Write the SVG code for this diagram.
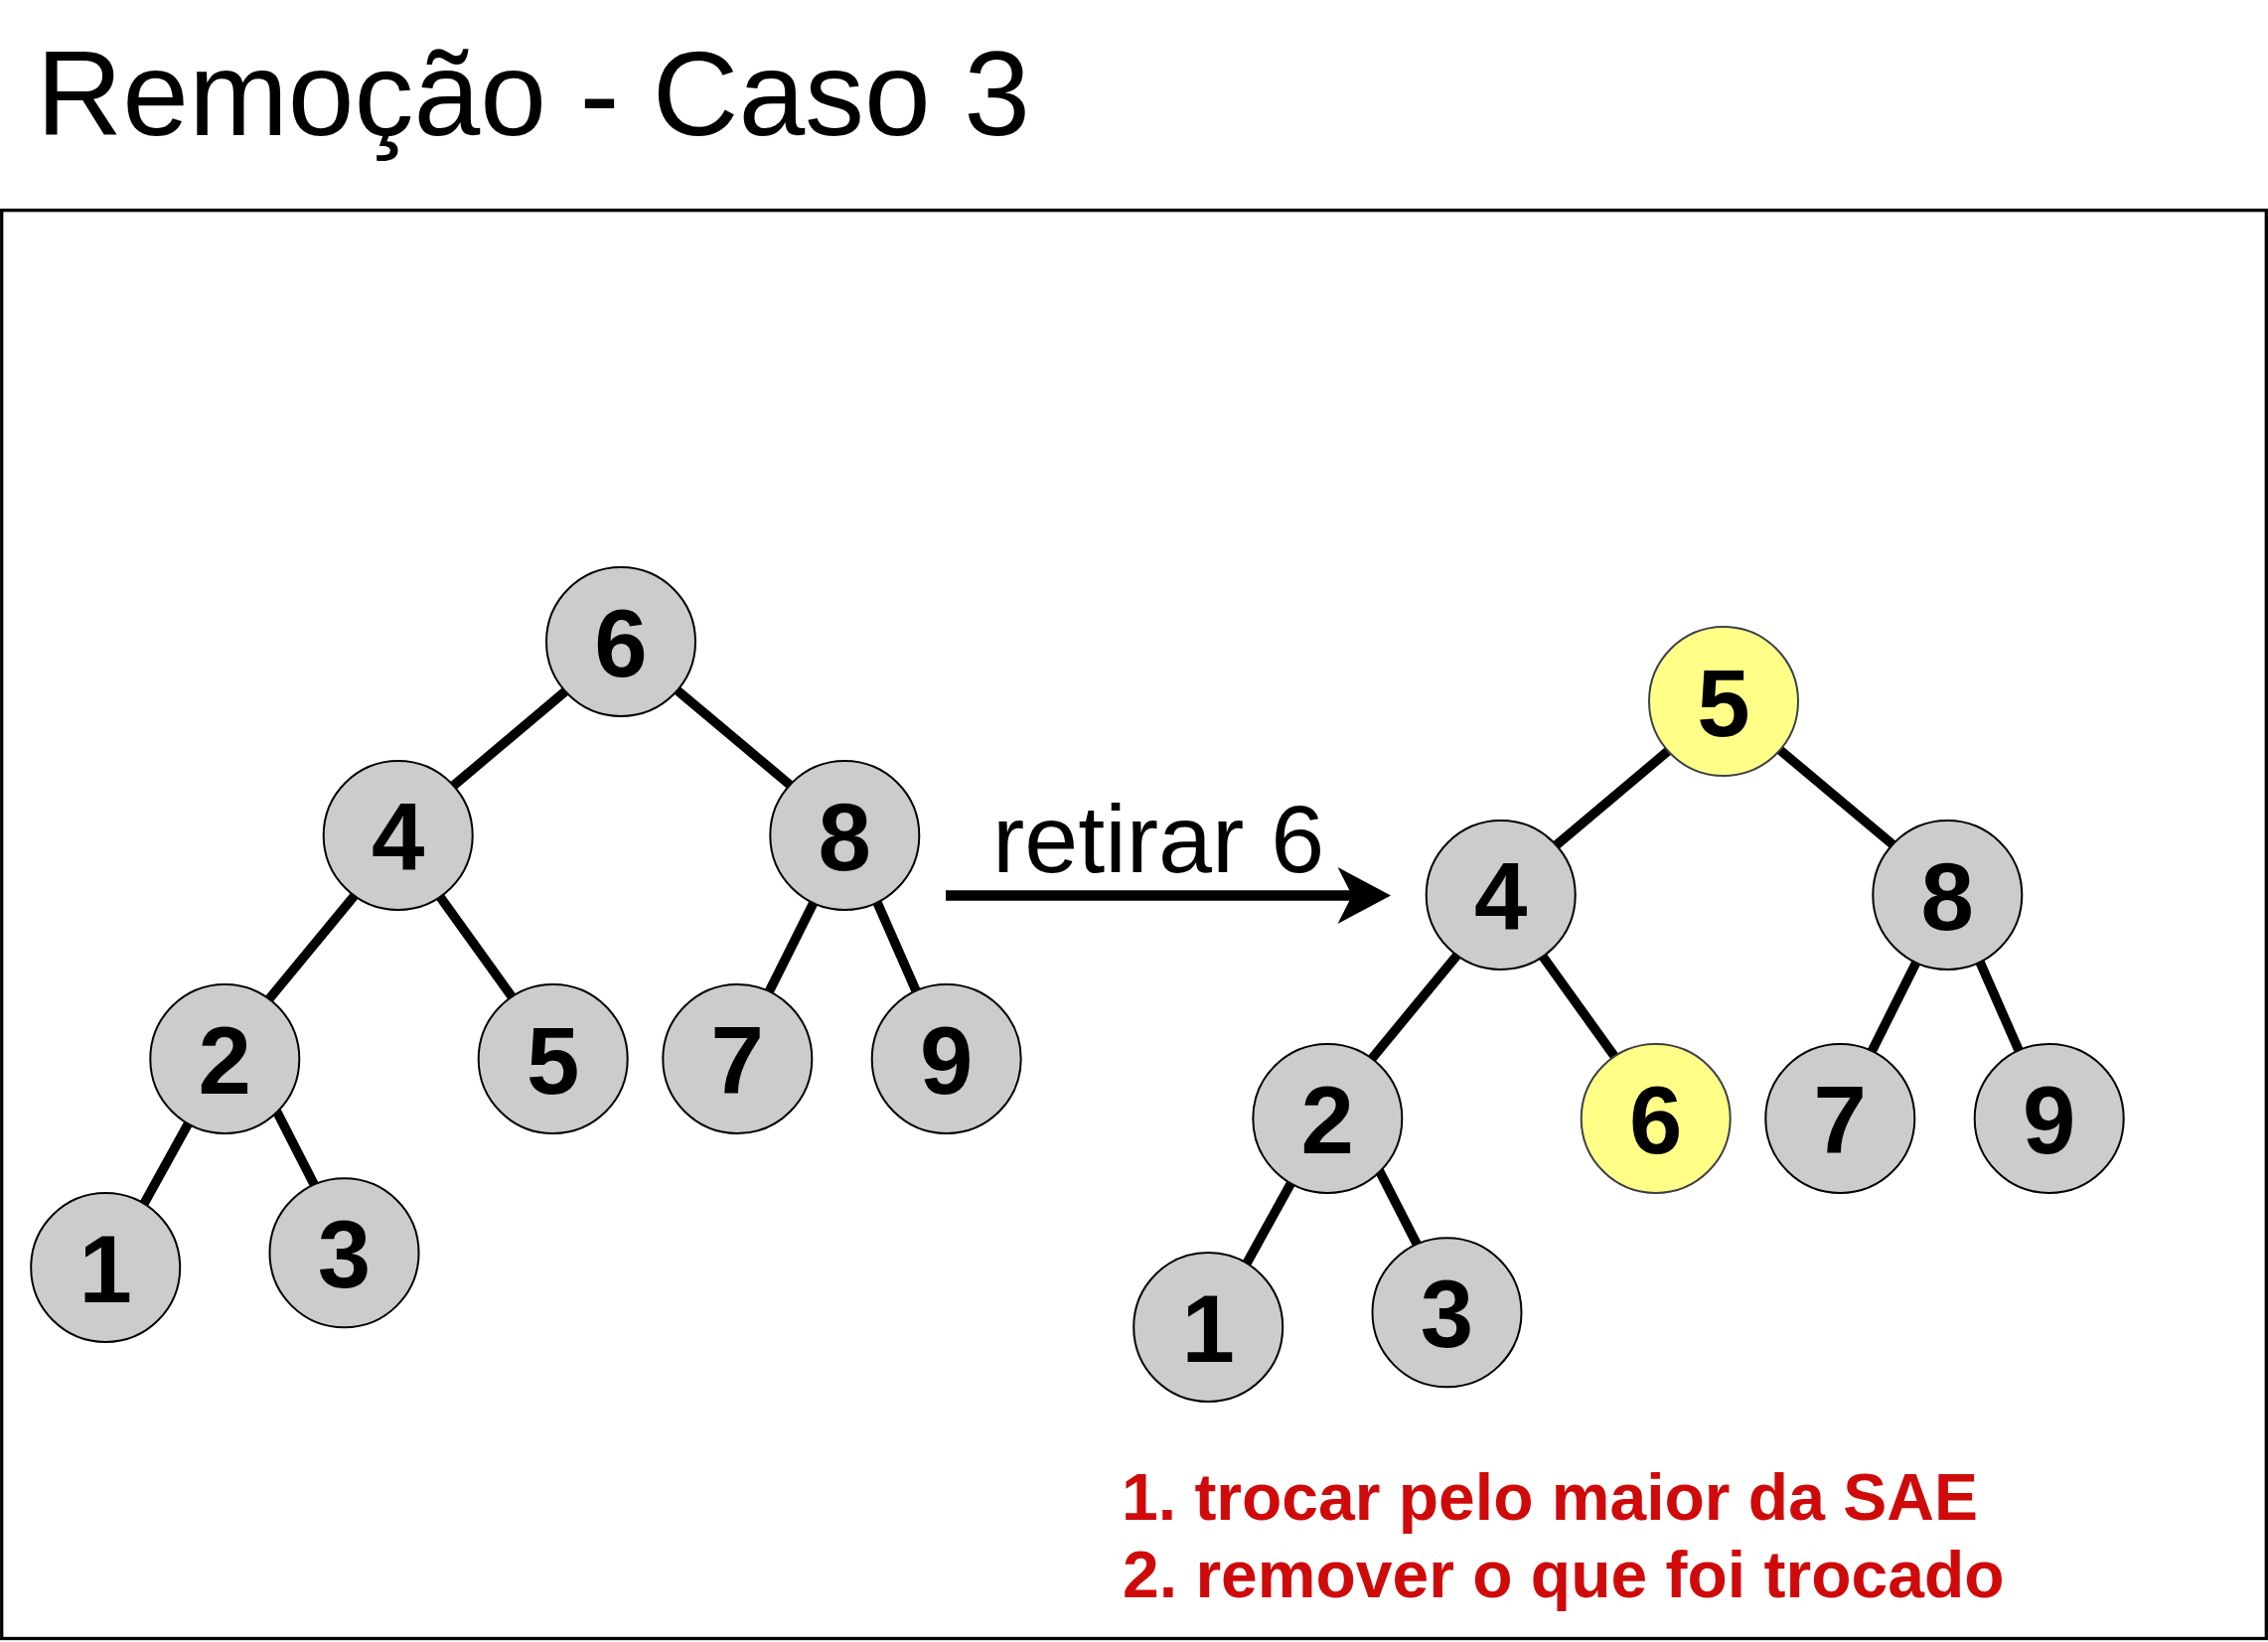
<svg xmlns="http://www.w3.org/2000/svg" width="2283" height="1653" viewBox="0 0 2283 1653">
  <style>
    .edge { stroke: #000; stroke-width: 9.5; fill: none; }
    .node { fill: #cccccc; stroke: #000; stroke-width: 2; }
    .hl { fill: #ffff88; stroke: #3c4046; stroke-width: 2; }
    .lbl { font-family: "Liberation Sans", Arial, Helvetica, sans-serif; font-weight: bold; font-size: 96px; text-anchor: middle; fill: #000; }
    .title { font-family: "Liberation Sans", Arial, Helvetica, sans-serif; font-size: 120px; fill: #000; }
    .arrowtxt { font-family: "Liberation Sans", Arial, Helvetica, sans-serif; font-size: 97px; fill: #000; }
    .note { font-family: "Liberation Sans", Arial, Helvetica, sans-serif; font-weight: bold; font-size: 66px; fill: #cf0a0a; }
  </style>
  <rect x="0" y="0" width="2283" height="1653" fill="#ffffff"/>
  <text id="title" class="title" x="36.5" y="136">Remoção - Caso 3</text>
  <rect id="frame" x="1.7" y="211.7" width="2279.6" height="1437.8" fill="none" stroke="#000" stroke-width="3.3"/>

  <g id="connectors">
    <line class="edge" x1="574.4" y1="691.5" x2="452.2" y2="794.5"/>
    <line class="edge" x1="675.6" y1="689.9" x2="801.1" y2="795.1"/>
    <line class="edge" x1="361.8" y1="895.5" x2="264.9" y2="1012.9"/>
    <line class="edge" x1="438.6" y1="896.8" x2="517.4" y2="1006.5"/>
    <line class="edge" x1="821.9" y1="902.8" x2="771.4" y2="1003.9"/>
    <line class="edge" x1="877.8" y1="896.7" x2="924.7" y2="1003.3"/>
    <line class="edge" x1="192.2" y1="1126.3" x2="141.1" y2="1218.7"/>
    <line class="edge" x1="276.4" y1="1114.6" x2="318.6" y2="1197.1"/>

    <line class="edge" x1="1684.4" y1="751.5" x2="1562.2" y2="854.5"/>
    <line class="edge" x1="1785.6" y1="749.9" x2="1911.1" y2="855.1"/>
    <line class="edge" x1="1471.8" y1="955.5" x2="1374.9" y2="1072.9"/>
    <line class="edge" x1="1548.6" y1="956.8" x2="1627.4" y2="1066.5"/>
    <line class="edge" x1="1931.9" y1="962.8" x2="1881.4" y2="1063.9"/>
    <line class="edge" x1="1987.8" y1="956.7" x2="2034.7" y2="1063.3"/>
    <line class="edge" x1="1302.2" y1="1186.3" x2="1251.1" y2="1278.7"/>
    <line class="edge" x1="1386.4" y1="1174.6" x2="1428.6" y2="1257.1"/>

    <g id="arrow">
      <line x1="952" y1="901.5" x2="1364" y2="901.5" stroke="#000" stroke-width="10.5"/>
      <polygon points="1400,901.5 1346.5,873 1361,901.5 1346.5,930" fill="#000"/>
    </g>
  </g>
  <text id="arrow-label" class="arrowtxt" x="999" y="878">retirar 6</text>

  <g id="left-tree">
    <g id="L6"><circle class="node" cx="625" cy="646" r="75"/><text class="lbl" x="625" y="681">6</text></g>
    <g id="L4"><circle class="node" cx="400.7" cy="841" r="75"/><text class="lbl" x="400.7" y="876">4</text></g>
    <g id="L8"><circle class="node" cx="850.3" cy="841" r="75"/><text class="lbl" x="850.3" y="876">8</text></g>
    <g id="L2"><circle class="node" cx="226.3" cy="1066" r="75"/><text class="lbl" x="226.3" y="1101">2</text></g>
    <g id="L5"><circle class="node" cx="556.7" cy="1066" r="75"/><text class="lbl" x="556.7" y="1101">5</text></g>
    <g id="L7"><circle class="node" cx="742.3" cy="1066" r="75"/><text class="lbl" x="742.3" y="1101">7</text></g>
    <g id="L9"><circle class="node" cx="952.7" cy="1066" r="75"/><text class="lbl" x="952.7" y="1101">9</text></g>
    <g id="L1"><circle class="node" cx="106.2" cy="1276" r="75"/><text class="lbl" x="106.2" y="1311">1</text></g>
    <g id="L3"><circle class="node" cx="346.5" cy="1261.3" r="75"/><text class="lbl" x="346.5" y="1296.3">3</text></g>
  </g>

  <g id="right-tree">
    <g id="R5"><circle class="hl" cx="1735" cy="706" r="75"/><text class="lbl" x="1735" y="741">5</text></g>
    <g id="R4"><circle class="node" cx="1510.7" cy="901" r="75"/><text class="lbl" x="1510.7" y="936">4</text></g>
    <g id="R8"><circle class="node" cx="1960.3" cy="901" r="75"/><text class="lbl" x="1960.3" y="936">8</text></g>
    <g id="R2"><circle class="node" cx="1336.3" cy="1126" r="75"/><text class="lbl" x="1336.3" y="1161">2</text></g>
    <g id="R6"><circle class="hl" cx="1666.7" cy="1126" r="75"/><text class="lbl" x="1666.7" y="1161">6</text></g>
    <g id="R7"><circle class="node" cx="1852.3" cy="1126" r="75"/><text class="lbl" x="1852.3" y="1161">7</text></g>
    <g id="R9"><circle class="node" cx="2062.7" cy="1126" r="75"/><text class="lbl" x="2062.7" y="1161">9</text></g>
    <g id="R1"><circle class="node" cx="1216.2" cy="1336" r="75"/><text class="lbl" x="1216.2" y="1371">1</text></g>
    <g id="R3"><circle class="node" cx="1456.5" cy="1321.3" r="75"/><text class="lbl" x="1456.5" y="1356.3">3</text></g>
  </g>

  <g id="notes">
    <text class="note" x="1129" y="1530">1. trocar pelo maior da SAE</text>
    <text class="note" x="1130" y="1608">2. remover o que foi trocado</text>
  </g>
</svg>
